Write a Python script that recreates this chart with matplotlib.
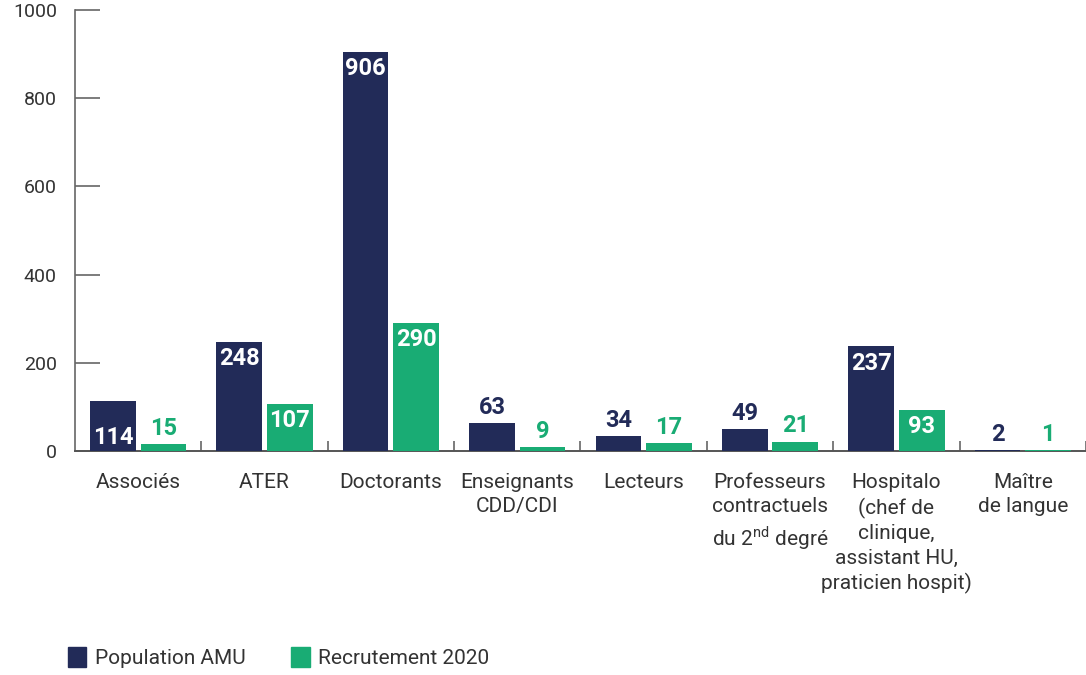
import numpy as np
import matplotlib.pyplot as plt
from matplotlib.patches import Patch

plt.rcParams['font.family'] = ['Roboto', 'DejaVu Sans']
plt.rcParams['mathtext.fontset'] = 'custom'
plt.rcParams['mathtext.rm'] = 'Roboto'

# Data
categories = ['Associés', 'ATER', 'Doctorants', 'Enseignants\nCDD/CDI', 'Lecteurs',
              'Professeurs\ncontractuels\ndu 2$^{\\mathrm{nd}}$ degré',
              'Hospitalo\n(chef de\nclinique,\nassistant HU,\npraticien hospit)',
              'Maître\nde langue']
population_amu = [114, 248, 906, 63, 34, 49, 237, 2]
recrutement_2020 = [15, 107, 290, 9, 17, 21, 93, 1]
series_names = ['Population AMU', 'Recrutement 2020']

navy = '#222B58'
green = '#19AC74'
text_col = '#333333'
axis_col = '#666666'

fig = plt.figure(figsize=(10.86, 6.75), dpi=100)
ax = fig.add_axes([0.069, 0.332, 0.931, 0.653])

x = np.arange(len(categories)) + 0.5
w = 0.362
off = 0.2

bars_pop = ax.bar(x - off, population_amu, w, color=navy, zorder=3)
bars_rec = ax.bar(x + off, recrutement_2020, w, color=green, zorder=3)


def add_labels(bars, values, colour, base_first=False):
    for i, (b, v) in enumerate(zip(bars, values)):
        cx = b.get_x() + b.get_width() / 2
        if v < 80:
            ax.annotate(str(v), (cx, v), xytext=(0, 3), textcoords='offset points',
                        ha='center', va='bottom', color=colour,
                        fontsize=17, fontweight='bold')
        elif base_first and i == 0:
            ax.annotate(str(v), (cx, 0), xytext=(0, 10), textcoords='offset points',
                        ha='center', va='center', color='white',
                        fontsize=17, fontweight='bold')
        else:
            ax.annotate(str(v), (cx, v), xytext=(0, -12), textcoords='offset points',
                        ha='center', va='center', color='white',
                        fontsize=17, fontweight='bold')


add_labels(bars_pop, population_amu, navy, base_first=True)
add_labels(bars_rec, recrutement_2020, green)

ax.set_xlim(0, len(categories))
ax.set_ylim(0, 1000)
ax.set_yticks([0, 200, 400, 600, 800, 1000])
ax.tick_params(axis='y', direction='in', length=18, width=1.2, color=axis_col,
               pad=13, labelsize=14, labelcolor=text_col)

ax.set_xticks(x)
ax.set_xticklabels(categories, linespacing=1.35)
ax.tick_params(axis='x', which='major', length=0, pad=16, labelsize=15,
               labelcolor=text_col)
ax.set_xticks(np.arange(1, len(categories) + 1), minor=True)
ax.tick_params(axis='x', which='minor', direction='in', length=7, width=1.2,
               color=axis_col)

for s in ['top', 'right']:
    ax.spines[s].set_visible(False)
ax.spines['left'].set_color(axis_col)
ax.spines['left'].set_linewidth(1.2)
ax.spines['bottom'].set_color('#555555')
ax.spines['bottom'].set_linewidth(1.4)

handles = [Patch(color=navy, label=series_names[0]),
           Patch(color=green, label=series_names[1])]
fig.legend(handles=handles, loc='lower left', bbox_to_anchor=(0.045, -0.018),
           ncol=2, frameon=False, fontsize=15, handlelength=0.9, handleheight=1.1,
           handletextpad=0.4, columnspacing=2.2, labelcolor=text_col)

fig.savefig('out.png', dpi=100)
